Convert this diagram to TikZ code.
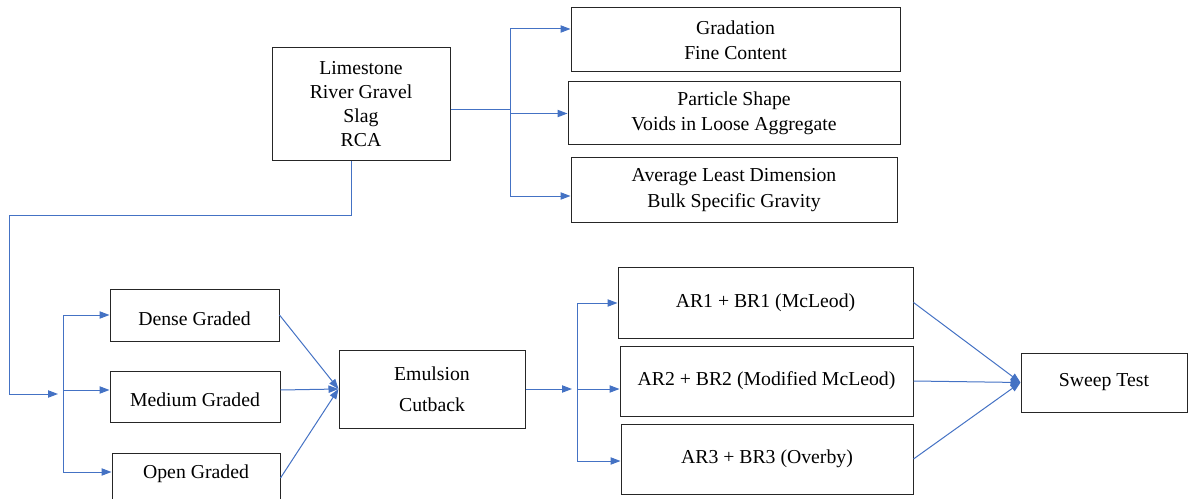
\documentclass[tikz,border=0pt]{standalone}
\usepackage{fontspec}
\setmainfont{Liberation Serif}
\usetikzlibrary{arrows.meta}
\definecolor{linkblue}{HTML}{4472C4}
\newdimen\pxl \pxl=0.75pt

\begin{document}
\begin{tikzpicture}[x=0.75pt,y=-0.75pt,
  box/.style={draw=black!85,line width=0.75pt,align=center,inner sep=2pt,
    font=\fontsize{14.8}{18}\selectfont},
  lowtext/.style={text height=16pt,text depth=1pt},
  link/.style={draw=linkblue,line width=0.75pt},
  arr/.style={link,-{Triangle[length=7.5pt,width=5.5pt]}}]
\useasboundingbox (0,0) rectangle (1188,499);
\clip (0,0) rectangle (1188,499);

\node[box,minimum width=178\pxl,minimum height=113\pxl] (src) at (361,104.5)
  {Limestone\\River Gravel\\Slag\\RCA};
\node[box,minimum width=329\pxl,minimum height=64\pxl] (grad) at (735.5,40)
  {Gradation\\[1pt]Fine Content};
\node[box,minimum width=332\pxl,minimum height=63\pxl] (shape) at (734,113.5)
  {Particle Shape\\[1pt]Voids in Loose Aggregate};
\node[box,minimum width=326\pxl,minimum height=64\pxl] (ald) at (734,190)
  {Average Least Dimension\\[1pt]Bulk Specific Gravity};

\node[box,lowtext,minimum width=169\pxl,minimum height=52\pxl] (dense) at (194.5,315) {Dense Graded};
\node[box,lowtext,minimum width=170\pxl,minimum height=51\pxl] (medium) at (195,396.5) {Medium Graded};
\node[box,minimum width=168\pxl,minimum height=50\pxl,text height=17pt,text depth=16pt] (open) at (196,478) {Open Graded};

\node[box,minimum width=186\pxl,minimum height=78\pxl] (binder) at (432,389)
  {Emulsion\\[5pt]Cutback};

\node[box,minimum width=295\pxl,minimum height=71\pxl] (ar1) at (765.5,302.5) {AR1 + BR1 (McLeod)};
\node[box,minimum width=293\pxl,minimum height=70\pxl] (ar2) at (766.5,381) {AR2 + BR2 (Modified McLeod)};
\node[box,minimum width=292\pxl,minimum height=70\pxl] (ar3) at (767,459) {AR3 + BR3 (Overby)};

\node[box,minimum width=166\pxl,minimum height=59\pxl] (sweep) at (1104,382.5) {Sweep Test};

\coordinate (b0) at (510,110);
\coordinate (b1) at (510,29);
\coordinate (b3) at (510,196);
\draw[link] (src.east |- b0) -- (b0);
\draw[link] (b1) -- (b3);
\draw[arr] (b1) -- (grad.west |- b1);
\draw[arr] (b0 |- shape.west) -- (shape.west);
\draw[arr] (b3) -- (ald.west |- b3);

\coordinate (drop) at (351,215);
\coordinate (lft) at (9,394);
\coordinate (in) at (58,394);
\draw[arr] (src.south -| drop) -- (drop) -| (lft) -- (in);

\coordinate (g1) at (63,315);
\coordinate (g2) at (63,390);
\coordinate (g3) at (63,472);
\draw[link] (g1) -- (g3);
\draw[arr] (g1) -- (dense.west);
\draw[arr] (g2) -- (medium.west |- g2);
\draw[arr] (g3) -- (open.west |- g3);

\draw[arr] (dense.east) -- (binder.west);
\draw[arr] (medium.east |- g2) -- (binder.west);
\draw[arr] (open.east) -- (binder.west);

\coordinate (e1) at (572,389);
\coordinate (a1) at (577,303);
\coordinate (a2) at (577,389);
\coordinate (a3) at (577,461);
\draw[arr] (binder.east) -- (e1);
\draw[link] (a1) -- (a3);
\draw[arr] (a1) -- (ar1.west |- a1);
\draw[arr] (a2) -- (ar2.west |- a2);
\draw[arr] (a3) -- (ar3.west |- a3);

\draw[arr] (ar1.east) -- (sweep.west);
\draw[arr] (ar2.east) -- (sweep.west);
\draw[arr] (ar3.east) -- (sweep.west);

\end{tikzpicture}
\end{document}
